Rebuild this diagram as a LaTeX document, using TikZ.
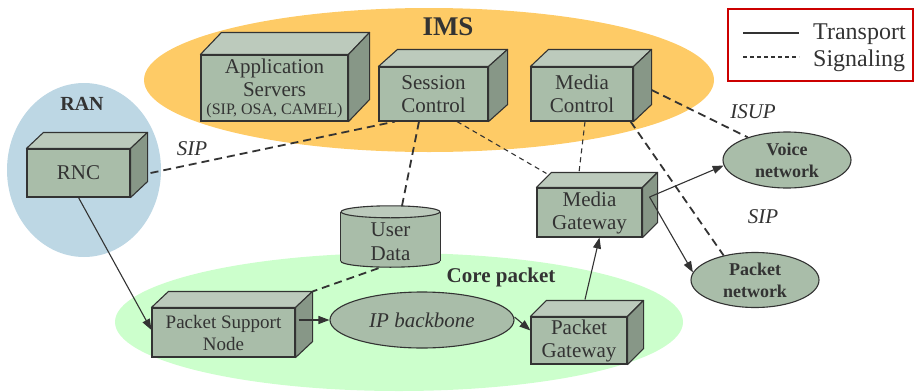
\documentclass[tikz,border=0pt]{standalone}
\usepackage{fontspec}
\setmainfont{Liberation Serif}
\usetikzlibrary{arrows.meta,calc,shapes.geometric}

\definecolor{imsfill}{HTML}{FECB66}
\definecolor{ranfill}{HTML}{BDD7E4}
\definecolor{corefill}{HTML}{CCFFCC}
\definecolor{boxfront}{HTML}{A9BDA9}
\definecolor{boxtop}{HTML}{BCCABC}
\definecolor{boxside}{HTML}{879787}
\definecolor{ink}{HTML}{333333}
\definecolor{legendred}{HTML}{CC0000}

% top and right faces of a 3-D box whose front face is node #1
\newcommand\boxfaces[3]{%
  \draw[face, fill=boxtop] (#1.north west) -- ++(#2,-#3)
     -- ([shift={(#2,-#3)}]#1.north east) -- (#1.north east) -- cycle;
  \draw[face, fill=boxside] (#1.north east) -- ++(#2,-#3)
     -- ([shift={(#2,-#3)}]#1.south east) -- (#1.south east) -- cycle;
}

\begin{document}
\begin{tikzpicture}[x=1pt, y=-1pt,
  region/.style={ellipse, draw=none, inner sep=0pt},
  face/.style={draw=ink, line width=1.1pt, line join=round},
  box/.style={rectangle, draw=ink, line width=1.1pt, fill=boxfront, inner sep=0pt,
    align=center, text=ink, font=\fontsize{21}{23}\selectfont},
  cloud/.style={ellipse, draw=ink, line width=1.1pt, fill=boxfront, inner sep=0pt,
    align=center, text=ink},
  title/.style={text=ink, font=\bfseries\fontsize{21}{23}\selectfont},
  proto/.style={text=ink, font=\itshape\fontsize{21}{23}\selectfont},
  transport/.style={draw=ink, line width=1.1pt, -{Triangle[length=11pt,width=8pt]}},
  sigthick/.style={draw=ink, line width=1.8pt, dash pattern=on 8pt off 5pt},
  sigthin/.style={draw=ink, line width=1.1pt, dash pattern=on 5pt off 4pt},
]
\useasboundingbox (0,0) rectangle (915,391);

% domains
\node[region, fill=imsfill, minimum width=570pt, minimum height=144pt] (ims) at (429,80) {};
\node[region, fill=ranfill, minimum width=154pt, minimum height=174pt] (ran) at (84,170) {};
\node[region, fill=corefill, minimum width=568pt, minimum height=138pt] (core) at (399,322) {};

\node[title, font=\bfseries\fontsize{27}{29}\selectfont] (imslabel) at (448,27) {IMS};
\node[title, font=\bfseries\fontsize{20}{22}\selectfont] (ranlabel) at (82,104) {RAN};
\node[title] (corelabel) at (501,277) {Core packet};

% 3-D boxes
\node[box, minimum width=147pt, minimum height=66pt] (as) at (274.5,88)
  {Application\\Servers\\[-5pt]{\fontsize{16}{16}\selectfont (SIP, OSA, CAMEL)}};
\boxfaces{as}{21}{22}

\node[box, minimum width=109pt, minimum height=54pt] (sc) at (433.5,94) {Session\\Control};
\boxfaces{sc}{19}{17}

\node[box, minimum width=102pt, minimum height=54pt] (mc) at (582,94) {Media\\Control};
\boxfaces{mc}{18}{17}

\node[box, minimum width=103pt, minimum height=48pt] (rnc) at (78.5,173) {RNC};
\boxfaces{rnc}{17}{16}

\node[box, minimum width=143pt, minimum height=49pt, font=\fontsize{19}{22}\selectfont] (psn) at (223.5,332.5)
  {Packet Support\\Node};
\boxfaces{psn}{17}{16}

\node[box, minimum width=96pt, minimum height=47pt] (pg) at (579,340.5) {Packet\\Gateway};
\boxfaces{pg}{16}{16}

\node[box, minimum width=105pt, minimum height=49pt] (mg) at (589.5,212.5) {Media\\Gateway};
\boxfaces{mg}{15}{15}

% user data store
\node[minimum width=99pt, minimum height=49pt, inner sep=0pt] (ud) at (390.5,236.5) {};
\fill[boxfront] (ud.north west) -- (ud.south west)
  arc[start angle=180, end angle=0, x radius=49.5, y radius=6] -- (ud.north east) -- cycle;
\draw[face] (ud.south west) arc[start angle=180, end angle=0, x radius=49.5, y radius=6];
\draw[face] (ud.north west) -- (ud.south west);
\draw[face] (ud.north east) -- (ud.south east);
\draw[face, fill=boxtop] (ud.north) ellipse[x radius=49.5, y radius=6];
\node[align=center, text=ink, font=\fontsize{21}{24}\selectfont] (udtext) at (390.5,242) {User\\Data};

% networks
\node[cloud, minimum width=184pt, minimum height=56pt, font=\itshape\fontsize{21}{23}\selectfont] (ipb) at (422,320) {IP backbone};
\node[cloud, minimum width=128pt, minimum height=56pt, font=\bfseries\fontsize{18}{22}\selectfont] (voice) at (787,160) {Voice\\network};
\node[cloud, minimum width=128pt, minimum height=55pt, font=\bfseries\fontsize{18}{22}\selectfont] (pnet) at (755,280) {Packet\\network};

% legend
\node[draw=legendred, line width=1.4pt, fill=white, minimum width=185pt, minimum height=72pt, inner sep=0pt] (legend) at (820.5,45) {};
\draw[draw=ink, line width=1.1pt] ([shift={(16,-12)}]legend.west) -- ++(56,0);
\draw[draw=ink, line width=1.1pt, dash pattern=on 4pt off 3pt] ([shift={(16,12)}]legend.west) -- ++(56,0);
\node[anchor=base west, text=ink, font=\fontsize{24}{26}\selectfont, inner sep=0pt] (ltrans) at (813,39) {Transport};
\node[anchor=base west, text=ink, font=\fontsize{24}{26}\selectfont, inner sep=0pt] (lsig) at (813,66) {Signaling};

% signaling
\draw[sigthick] ([shift={(20,0)}]rnc.east) -- ([shift={(-38.5,0)}]sc.south);
\draw[sigthick] ([shift={(-14.5,0)}]sc.south) -- ([shift={(11.5,-6)}]ud.north);
\draw[sigthin] ([shift={(23.5,0)}]sc.south) -- ([shift={(10,-14)}]mg.north west);
\draw[sigthin] ([shift={(3,0)}]mc.south) -- ([shift={(-10.5,-15)}]mg.north);
\draw[sigthick] ([shift={(18,-4)}]mc.east) -- (voice.150);
\draw[sigthick] ([shift={(-3,0)}]mc.south east) -- (pnet.142);
\draw[sigthick] ([shift={(-12,7)}]ud.south) -- ([shift={(17,-16)}]psn.north east);

% transport
\draw[transport] (rnc.south) -- ([shift={(0,-2.5)}]psn.west);
\draw[transport] ([shift={(3,-12.5)}]psn.east) -- (ipb.west);
\draw[transport] ([shift={(0,-3)}]ipb.east) -- ([shift={(0,-10)}]pg.west);
\draw[transport] ([shift={(6,-17)}]pg.north) -- ([shift={(10,0)}]mg.south);
\draw[transport] ([shift={(7,-15.5)}]mg.east) -- (voice.185);
\draw[transport] ([shift={(7,-15.5)}]mg.east) -- (pnet.173);

% protocol labels
\node[proto] (sip1) at (192,149) {SIP};
\node[proto] (isup) at (753,112) {ISUP};
\node[proto] (sip2) at (763,217) {SIP};
\end{tikzpicture}
\end{document}
